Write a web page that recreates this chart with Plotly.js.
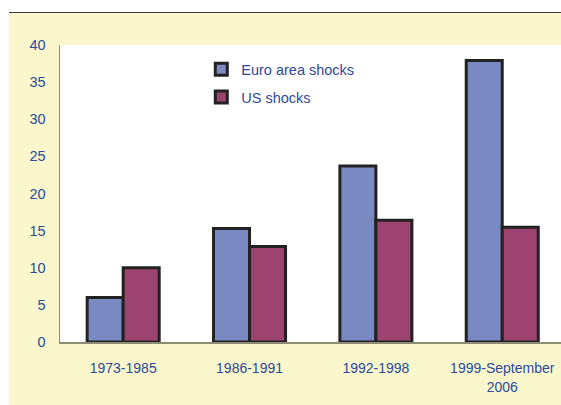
<!DOCTYPE html>
<html>
<head>
<meta charset="utf-8">
<script src="https://cdn.plot.ly/plotly-3.0.1.min.js"></script>
<style>
  html, body { margin: 0; padding: 0; background: #ffffff; }
  #chart { position: absolute; left: 9px; top: 12px; width: 552px; height: 393px; border-top: 1.5px solid #3a3a3a; }
</style>
</head>
<body>
<div id="chart"></div>
<script>
const periods = ['1973-1985', '1986-1991', '1992-1998', '1999-September<br>2006'];
const euroShocks = [6.0, 15.3, 23.7, 37.9];
const usShocks = [10.0, 12.85, 16.4, 15.45];

const textColor = '#2d4a9b';
const outline = { color: '#222222', width: 3 };

let data = [
    {
        x: periods,
        y: euroShocks,
        name: 'Euro area shocks',
        type: 'bar',
        legendgroup: 'a',
        marker: { color: '#7b89c3', line: outline }
    },
    {
        x: periods,
        y: usShocks,
        name: 'US shocks',
        type: 'bar',
        legendgroup: 'b',
        marker: { color: '#9c436f', line: outline }
    }
];

let layout = {
    width: 552,
    height: 393,
    paper_bgcolor: '#f9f7cb',
    plot_bgcolor: '#ffffff',
    margin: { l: 50.5, r: 0, t: 32, b: 64 },
    barmode: 'group',
    bargap: 0.43,
    bargroupgap: 0,
    font: { family: 'Liberation Sans, Arial, sans-serif', size: 14, color: textColor },
    showlegend: true,
    legend: {
        x: 0.282,
        y: 0.972,
        xanchor: 'left',
        yanchor: 'top',
        bgcolor: 'rgba(0,0,0,0)',
        font: { size: 14.5, color: textColor },
        traceorder: 'grouped',
        tracegroupgap: 6
    },
    xaxis: {
        range: [-0.5, 3.465],
        showline: true,
        linecolor: '#8d8a78',
        linewidth: 1.5,
        ticks: '',
        ticklabelstandoff: 13,
        tickfont: { size: 14, color: textColor },
        fixedrange: true
    },
    yaxis: {
        range: [0, 40],
        dtick: 5,
        showgrid: false,
        zeroline: false,
        showline: true,
        linecolor: '#8d8d8d',
        linewidth: 1.5,
        ticks: '',
        ticklabelstandoff: 10,
        tickfont: { size: 14.5, color: textColor },
        fixedrange: true
    }
};

Plotly.newPlot('chart', data, layout, { displayModeBar: false, staticPlot: true });
</script>
</body>
</html>
